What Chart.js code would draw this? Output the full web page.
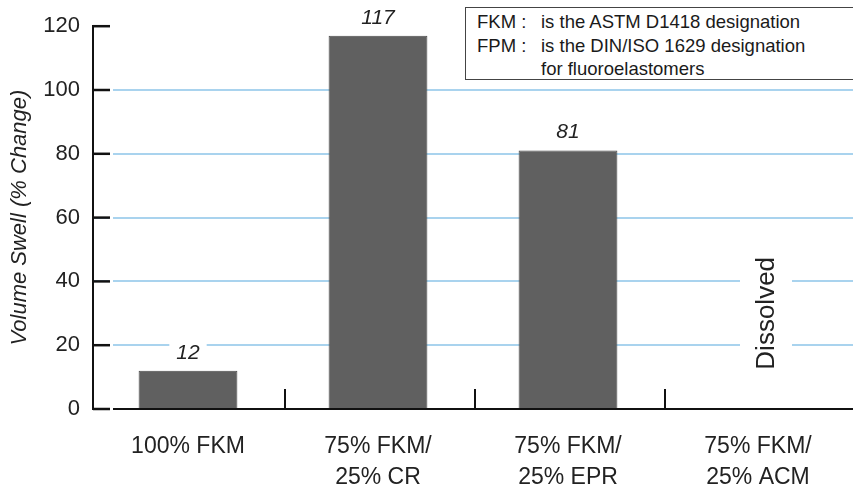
<!DOCTYPE html>
<html>
<head>
<meta charset="utf-8">
<script src="https://cdn.jsdelivr.net/npm/chart.js@4.4.0/dist/chart.umd.min.js"></script>
<style>
  html, body { margin: 0; padding: 0; background: #fff; overflow: hidden; }
  #wrap { position: relative; width: 853px; height: 491px; }
  #note {
    position: absolute; left: 465px; top: 7px; width: 400px; height: 73px;
    border: 1.5px solid #444; background: #fff; box-sizing: border-box;
    font-family: "Liberation Sans", Arial, sans-serif; font-size: 18.5px; color: #1a1a1a;
    padding-top: 2px; line-height: 23.5px;
  }
  #note .k { display: inline-block; width: 64px; padding-left: 11px; }
</style>
</head>
<body>
<div id="wrap">
  <canvas id="swellChart" width="853" height="491"></canvas>
  <div id="note">
    <div><span class="k">FKM :</span>is the ASTM D1418 designation</div>
    <div><span class="k">FPM :</span>is the DIN/ISO 1629 designation</div>
    <div><span class="k"></span>for fluoroelastomers</div>
  </div>
</div>
<script>
// --- Data ---
const categories = [["100% FKM"], ["75% FKM/", "25% CR"], ["75% FKM/", "25% EPR"], ["75% FKM/", "25% ACM"]];
const swell = [12, 117, 81, null];
const valueLabels = ["12", "117", "81", ""];
const notes = ["", "", "", "Dissolved"];
const yMin = 0, yMax = 120, yStep = 20;

const FONT = "'Liberation Sans', Arial, sans-serif";
Chart.defaults.font.family = FONT;
Chart.defaults.color = "#222";

// --- Extra marks: inward ticks, category separators, value labels ---
const decorations = {
  id: "decorations",
  afterDraw(chart) {
    const ctx = chart.ctx;
    const x = chart.scales.x, y = chart.scales.y;
    const area = chart.chartArea;
    ctx.save();

    // y ticks pointing into the plot
    y.ticks.forEach(t => {
      const py = y.getPixelForValue(t.value);
      ctx.strokeStyle = "#fff";
      ctx.lineWidth = 3;
      ctx.beginPath(); ctx.moveTo(area.left + 16, py); ctx.lineTo(area.left + 20, py); ctx.stroke();
      ctx.strokeStyle = "#111";
      ctx.lineWidth = 2.5;
      ctx.beginPath(); ctx.moveTo(area.left, py); ctx.lineTo(area.left + 17, py); ctx.stroke();
    });

    // separators between categories
    ctx.strokeStyle = "#111";
    ctx.lineWidth = 2;
    for (let i = 0; i < categories.length - 1; i++) {
      const px = (x.getPixelForValue(i) + x.getPixelForValue(i + 1)) / 2 + 2;
      ctx.beginPath(); ctx.moveTo(px, area.bottom); ctx.lineTo(px, area.bottom - 20); ctx.stroke();
    }

    // value labels above bars
    ctx.font = "italic 21px " + FONT;
    ctx.textAlign = "center";
    ctx.textBaseline = "middle";
    const meta = chart.getDatasetMeta(0);
    meta.data.forEach((bar, i) => {
      if (!valueLabels[i]) return;
      const ly = bar.y - 18;
      const w = ctx.measureText(valueLabels[i]).width;
      ctx.fillStyle = "#fff";
      ctx.fillRect(bar.x - w / 2 - 7, ly - 10, w + 14, 20);
      ctx.fillStyle = "#222";
      ctx.fillText(valueLabels[i], bar.x, ly);
    });

    // notes for missing bars
    ctx.font = "26px " + FONT;
    notes.forEach((n, i) => {
      if (!n) return;
      const px = x.getPixelForValue(i) + 8;
      const py = y.getPixelForValue(30);
      const w = ctx.measureText(n).width;
      ctx.save();
      ctx.translate(px, py);
      ctx.rotate(-Math.PI / 2);
      ctx.fillStyle = "#fff";
      ctx.fillRect(-w / 2 - 6, -26, w + 12, 52);
      ctx.fillStyle = "#222";
      ctx.fillText(n, 0, 1);
      ctx.restore();
    });

    ctx.restore();
  }
};

new Chart(document.getElementById("swellChart"), {
  type: "bar",
  data: {
    labels: categories,
    datasets: [{
      data: swell,
      backgroundColor: "#606060",
      borderColor: "#4a4a4a",
      borderWidth: 1,
      categoryPercentage: 1,
      barPercentage: 0.52
    }]
  },
  options: {
    responsive: false,
    animation: false,
    layout: { padding: { top: 24, right: 0, left: 0, bottom: 0 } },
    plugins: { legend: { display: false }, tooltip: { enabled: false } },
    scales: {
      x: {
        offset: true,
        grid: { display: false, drawTicks: false },
        border: { color: "#111", width: 2 },
        ticks: {
          font: { size: 23, lineHeight: 1.35 },
          color: "#222",
          padding: 22,
          maxRotation: 0,
          autoSkip: false
        },
        afterFit(scale) { scale.height = 82; }
      },
      y: {
        min: yMin,
        max: yMax,
        ticks: { stepSize: yStep, font: { size: 22 }, color: "#222", padding: 13 },
        grid: {
          drawTicks: false,
          lineWidth: 2,
          color: c => (c.tick && (c.tick.value === yMin || c.tick.value === yMax)) ? "rgba(0,0,0,0)" : "#a9d3ee"
        },
        border: { color: "#111", width: 2 },
        title: {
          display: true,
          text: "Volume Swell (% Change)",
          font: { size: 22, style: "italic" },
          color: "#222",
          padding: { top: 7, bottom: 0 }
        },
        afterFit(scale) { scale.width = 93; }
      }
    }
  },
  plugins: [decorations]
});
</script>
</body>
</html>
